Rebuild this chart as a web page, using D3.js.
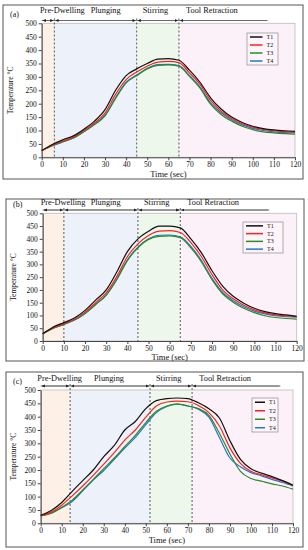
<!DOCTYPE html>
<html lang="en">
<head>
<meta charset="UTF-8">
<script src="https://cdn.jsdelivr.net/npm/d3@7"></script>
<style>
  body { margin: 0; background: #fff; }
  svg text { font-family: "Liberation Serif", "DejaVu Serif", serif; fill: #111; }
  .axis path, .axis line { stroke: #444; }
</style>
</head>
<body>
<div id="chart"></div>
<script>
// time points (sec)
var times = [0,5,10,15,20,25,30,35,40,45,50,55,60,65,70,75,80,85,90,95,100,105,110,115,120];

// panel (a)
var t1a = [25,48,65,80,105,135,178,250,305,330,350,366,368,362,325,280,222,180,150,130,116,107,102,99,97];
var t2a = [25,45,60,75,100,128,165,235,290,318,340,355,358,353,315,272,212,172,145,125,112,104,99,96,94];
var t3a = [25,43,57,72,95,122,155,220,278,305,330,343,345,340,302,258,198,160,135,116,103,95,91,88,86];
var t4a = [25,43,58,72,96,123,157,222,280,307,332,346,347,342,305,262,203,166,140,121,108,100,95,92,91];

// panel (b)
var t1b = [28,55,72,90,120,160,200,270,350,400,430,450,450,443,400,345,275,215,175,148,128,115,107,102,97];
var t2b = [28,52,68,85,113,150,188,252,330,380,413,430,432,425,385,330,260,200,165,140,122,110,102,98,95];
var t3b = [28,50,65,82,108,143,180,240,315,365,398,410,412,405,365,310,240,185,152,128,111,99,92,88,86];
var t4b = [28,50,65,82,108,143,180,242,317,367,400,414,415,408,370,315,245,190,158,134,117,106,99,95,93];

// panel (c)
var t1c = [30,48,78,120,160,200,250,292,350,382,430,460,468,470,468,452,430,395,310,240,205,188,175,160,143];
var t2c = [30,42,68,103,140,180,222,265,312,350,398,440,455,458,456,442,415,365,283,225,195,182,170,158,142];
var t3c = [28,38,60,87,125,165,205,245,288,330,378,420,440,447,440,430,405,338,260,195,168,158,148,140,128];
var t4c = [28,38,58,82,122,162,198,240,282,322,370,415,438,447,440,428,398,322,245,212,190,178,165,153,140];

var seriesNames = ["T1", "T2", "T3", "T4"];
var phaseNames = ["Pre-Dwelling", "Plunging", "Stirring", "Tool Retraction"];
var yTicks = [0,50,100,150,200,250,300,350,400,450,500];
var xTicks = [0,10,20,30,40,50,60,70,80,90,100,110,120];

// phase boundaries per panel
var phasesA = [0, 6, 45, 65, 120];
var phasesB = [0, 10, 45, 65, 120];
var phasesC = [0, 14, 52, 72, 120];

var colors = ["#111111", "#ff1f1f", "#2a8a2a", "#2277cc"];
var phaseFill = ["#fdf0e6", "#edf1fa", "#eef7eb", "#fcf1f8"];

var panels = [
  { tag: "(a)", series: [t1a, t2a, t3a, t4a], phases: phasesA, arrowEnd: 107,
    frame: [3, 5, 300, 174], x0: 41.7, x1: 295, yTop: 23.3, yBot: 157.3,
    labelY: 13, arrowY: 20.5, labelX: [40, 90.7, 142.7, 186], xTitleY: 177,
    legend: [247, 33, 31, 32] },
  { tag: "(b)", series: [t1b, t2b, t3b, t4b], phases: phasesB, arrowEnd: 107,
    frame: [6, 199, 298, 162], x0: 42.7, x1: 296.7, yTop: 213.3, yBot: 341,
    labelY: 205, arrowY: 210, labelX: [40.7, 90.7, 144, 187.3], xTitleY: 360,
    legend: [243, 222, 40, 31] },
  { tag: "(c)", series: [t1c, t2c, t3c, t4c], phases: phasesC, arrowEnd: 114,
    frame: [6, 372, 297, 175], x0: 40.7, x1: 293, yTop: 390, yBot: 523.3,
    labelY: 380.5, arrowY: 386, labelX: [37.3, 94, 156, 199.3], xTitleY: 543,
    legend: [252, 398, 26, 34] }
];

var svg = d3.select("#chart").append("svg")
  .attr("width", 308)
  .attr("height", 550);

var defs = svg.append("defs");
["L", "R"].forEach(function(dir) {
  defs.append("marker")
    .attr("id", "arr" + dir)
    .attr("viewBox", "0 0 6 6")
    .attr("refX", dir == "R" ? 6 : 0)
    .attr("refY", 3)
    .attr("markerWidth", 4)
    .attr("markerHeight", 4)
    .attr("orient", "auto")
    .append("path")
    .attr("d", dir == "R" ? "M0,0L6,3L0,6Z" : "M6,0L0,3L6,6Z")
    .attr("fill", "#222");
});

panels.forEach(function(p) {
  var g = svg.append("g");

  var x = d3.scaleLinear().domain([0, 120]).range([p.x0, p.x1]);
  var y = d3.scaleLinear().domain([0, 500]).range([p.yBot, p.yTop]);

  // frame
  g.append("rect")
    .attr("x", p.frame[0]).attr("y", p.frame[1])
    .attr("width", p.frame[2]).attr("height", p.frame[3])
    .attr("fill", "#fff")
    .attr("stroke", "#555")
    .attr("stroke-width", 1);

  // phase backgrounds
  for (var i = 0; i < 4; i++) {
    g.append("rect")
      .attr("x", x(p.phases[i]))
      .attr("y", y(500))
      .attr("width", x(p.phases[i + 1]) - x(p.phases[i]))
      .attr("height", y(0) - y(500))
      .attr("fill", phaseFill[i]);
  }

  // plot border
  g.append("rect")
    .attr("x", x(0)).attr("y", y(500))
    .attr("width", x(120) - x(0)).attr("height", y(0) - y(500))
    .attr("fill", "none")
    .attr("stroke", "#bbb")
    .attr("stroke-width", 0.8);

  // dashed phase lines
  p.phases.slice(1, 4).forEach(function(b) {
    g.append("line")
      .attr("x1", x(b)).attr("x2", x(b))
      .attr("y1", p.arrowY - 2).attr("y2", y(0))
      .attr("stroke", "#333")
      .attr("stroke-width", 0.8)
      .attr("stroke-dasharray", "2,2");
  });

  // phase arrows
  g.append("line")
    .attr("x1", x(0)).attr("x2", x(p.arrowEnd))
    .attr("y1", p.arrowY).attr("y2", p.arrowY)
    .attr("stroke", "#777")
    .attr("stroke-width", 1);
  for (var k = 0; k < 4; k++) {
    var a = p.phases[k], b = k == 3 ? p.arrowEnd : p.phases[k + 1];
    g.append("line")
      .attr("x1", x(a) + 1).attr("x2", x(b) - 1)
      .attr("y1", p.arrowY).attr("y2", p.arrowY)
      .attr("stroke", "#666")
      .attr("stroke-width", 0.8)
      .attr("marker-start", "url(#arrL)")
      .attr("marker-end", k == 3 ? null : "url(#arrR)");
  }

  // phase labels
  phaseNames.forEach(function(n, i) {
    g.append("text")
      .attr("x", p.labelX[i])
      .attr("y", p.labelY)
      .attr("font-size", "8.3px")
      .text(n);
  });

  // panel tag
  g.append("text")
    .attr("x", p.frame[0] + 7)
    .attr("y", p.yTop - 6)
    .attr("font-size", "8px")
    .text(p.tag);

  // axes
  g.append("g")
    .attr("class", "axis")
    .attr("transform", "translate(" + x(0) + ",0)")
    .call(d3.axisLeft(y).tickValues(yTicks).tickSize(3).tickPadding(2).tickSizeOuter(0))
    .selectAll("text")
    .attr("font-size", "7.5px");

  g.append("g")
    .attr("class", "axis")
    .attr("transform", "translate(0," + y(0) + ")")
    .call(d3.axisBottom(x).tickValues(xTicks).tickSize(3).tickPadding(1.5).tickSizeOuter(0))
    .selectAll("text")
    .attr("font-size", "7.5px");

  g.selectAll(".axis text").attr("font-family", "Liberation Serif, serif").attr("fill", "#111");

  // axis titles
  g.append("text")
    .attr("transform", "translate(" + (p.frame[0] + 10) + "," + ((y(0) + y(500)) / 2) + ") rotate(-90)")
    .attr("text-anchor", "middle")
    .attr("font-size", "7.5px")
    .text("Temperature °C");

  g.append("text")
    .attr("x", (x(0) + x(120)) / 2)
    .attr("y", p.xTitleY)
    .attr("text-anchor", "middle")
    .attr("font-size", "8.5px")
    .text("Time (sec)");

  // curves
  var line = d3.line()
    .x(function(d, i) { return x(times[i]); })
    .y(function(d) { return y(d); })
    .curve(d3.curveMonotoneX);

  [3, 2, 1, 0].forEach(function(s) {
    g.append("path")
      .datum(p.series[s])
      .attr("fill", "none")
      .attr("stroke", colors[s])
      .attr("stroke-width", 1.2)
      .attr("d", line);
  });

  // legend
  var lg = g.append("g");
  lg.append("rect")
    .attr("x", p.legend[0]).attr("y", p.legend[1])
    .attr("width", p.legend[2]).attr("height", p.legend[3])
    .attr("fill", "#fff")
    .attr("fill-opacity", 0.3)
    .attr("stroke", "#999")
    .attr("stroke-width", 0.8);
  var step = p.legend[3] / 4;
  seriesNames.forEach(function(n, i) {
    var ly = p.legend[1] + step * (i + 0.5);
    lg.append("line")
      .attr("x1", p.legend[0] + 3)
      .attr("x2", p.legend[0] + p.legend[2] * 0.5)
      .attr("y1", ly).attr("y2", ly)
      .attr("stroke", colors[i])
      .attr("stroke-width", 1.5);
    lg.append("text")
      .attr("x", p.legend[0] + p.legend[2] * 0.5 + 4)
      .attr("y", ly + 2)
      .attr("font-size", "6px")
      .text(n);
  });
});
</script>
</body>
</html>
